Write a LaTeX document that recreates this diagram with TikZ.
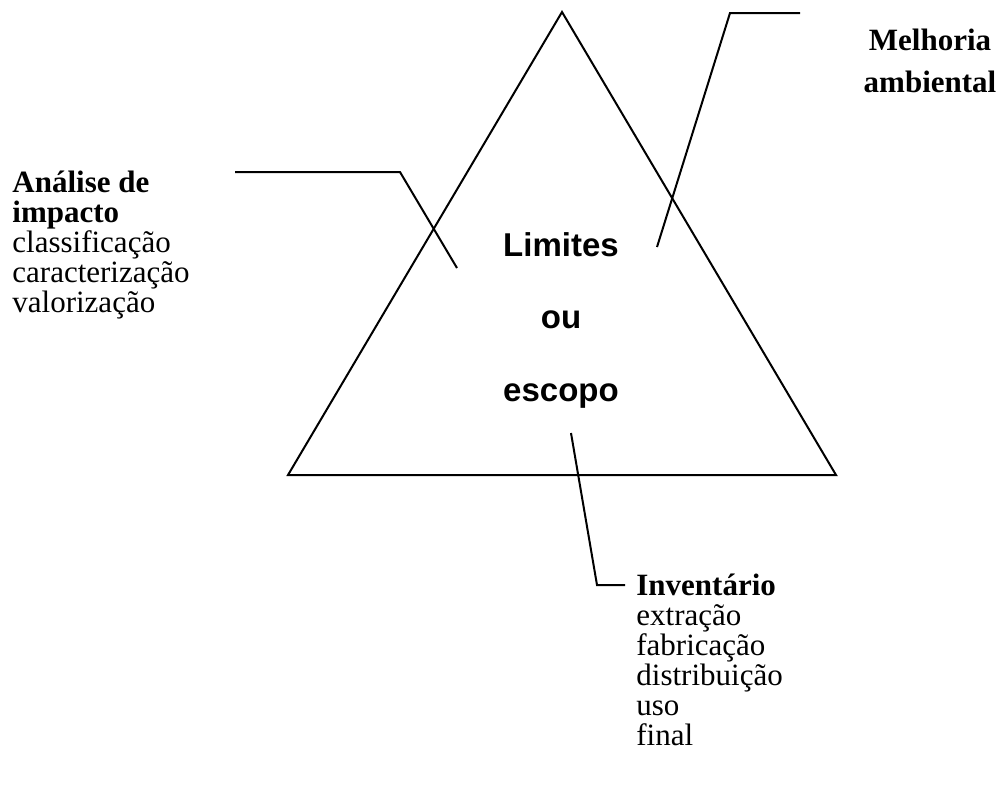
\documentclass[tikz,border=0pt]{standalone}
\usepackage{fontspec}
\setmainfont{Liberation Serif}
\newfontfamily\arialfont{Liberation Sans}
\begin{document}
\begin{tikzpicture}[x=0.5pt,y=-0.5pt,
  edge/.style={line width=1pt, line join=miter},
  lbl/.style={anchor=base west, inner sep=0pt, font=\fontsize{15.5}{18}\selectfont},
  lblb/.style={lbl, font=\fontsize{15.5}{18}\selectfont\bfseries},
  lblc/.style={anchor=base, inner sep=0pt, font=\fontsize{15.5}{18}\selectfont\bfseries},
  core/.style={anchor=base, inner sep=0pt, font=\fontsize{16.5}{18}\selectfont\arialfont\bfseries}]
\useasboundingbox (0,0) rectangle (1000,789);
% triangle
\coordinate (top) at (562,12);
\coordinate (bl) at (288,475);
\coordinate (br) at (836,475);
\draw[edge] (top) -- (bl) -- (br) -- cycle;
% centre text
\node[core] (lim) at (561,256) {Limites};
\node[core] (ou) at (561,328) {ou};
\node[core] (esc) at (561,401) {escopo};
% left label
\node[lblb] (a1) at (12,192) {Análise de};
\node[lblb] (a2) at (12,222) {impacto};
\node[lbl] (a3) at (12,252) {classificação};
\node[lbl] (a4) at (12,282) {caracterização};
\node[lbl] (a5) at (12,312) {valorização};
% right label
\node[lblc] (m1) at (930,50) {Melhoria};
\node[lblc] (m2) at (930,92) {ambiental};
% bottom label
\node[lblb] (i1) at (636,595) {Inventário};
\node[lbl] (i2) at (636,625) {extração};
\node[lbl] (i3) at (636,655) {fabricação};
\node[lbl] (i4) at (636,685) {distribuição};
\node[lbl] (i5) at (636,715) {uso};
\node[lbl] (i6) at (636,745) {final};
% leaders
\coordinate (la) at (235,172);
\coordinate (lb) at (400,172);
\coordinate (lc) at (457,268);
\draw[edge] (la) -- (lb) -- (lc);
\coordinate (ra) at (800,13);
\coordinate (rb) at (730,13);
\coordinate (rc) at (657,247);
\draw[edge] (ra) -- (rb) -- (rc);
\coordinate (ba) at (571,433);
\coordinate (bb) at (597,585);
\coordinate (bc) at (625,585);
\draw[edge] (ba) -- (bb) -- (bc);
\end{tikzpicture}
\end{document}
